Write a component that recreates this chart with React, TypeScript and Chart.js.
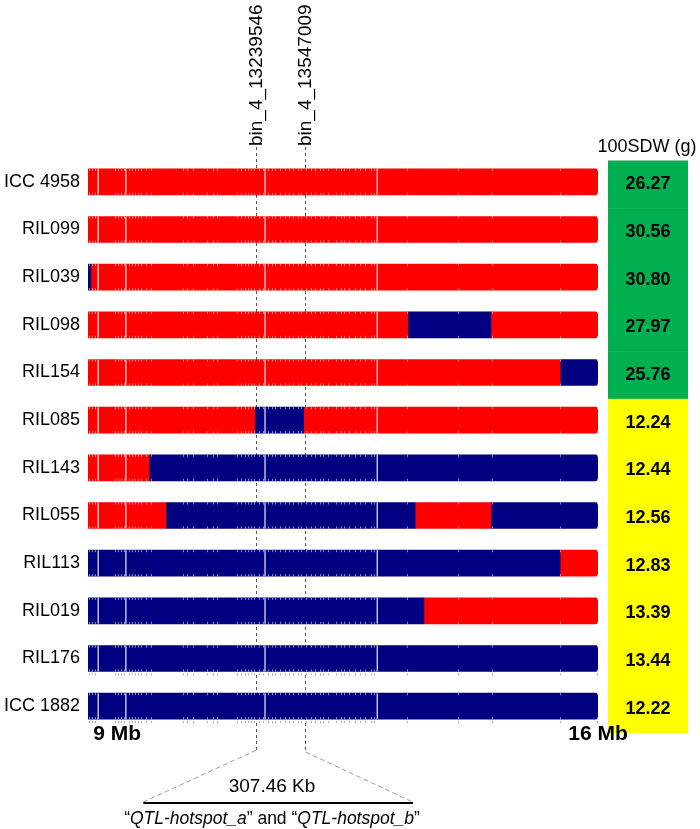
import React, { useEffect, useRef } from 'react';
import { Chart, registerables } from 'chart.js';

Chart.register(...registerables);

// ---- data ----
const lines = ['ICC 4958', 'RIL099', 'RIL039', 'RIL098', 'RIL154', 'RIL085', 'RIL143', 'RIL055', 'RIL113', 'RIL019', 'RIL176', 'ICC 1882'];
const sdw = [26.27, 30.56, 30.80, 27.97, 25.76, 12.24, 12.44, 12.56, 12.83, 13.39, 13.44, 12.22];
// A = ICC 4958 allele (red), B = ICC 1882 allele (blue)
const firstAllele = ['A', 'A', 'B', 'A', 'A', 'A', 'A', 'A', 'B', 'B', 'B', 'B'];
const breakpoints: number[][] = [
  [], [], [9.04], [13.39, 14.53], [15.48], [11.29, 11.96], [9.84], [10.07, 13.49, 14.53], [15.48], [13.61], [], [],
];
const mapStart = 9;
const mapEnd = 16;
const axisTickValues = [9.4, 16];
const axisTickLabels = ['9 Mb', '16 Mb'];
const binNames = ['bin_4_13239546', 'bin_4_13547009'];
const binPositions = [11.31, 11.98];
const zoomEnds = [9.76, 13.46];
const gapMarks = [9.14, 9.52, 11.43, 12.97];
const markerPositions = [
  9.01, 9.05, 9.09, 9.37, 9.41, 9.45, 9.49, 9.56, 9.6, 9.64, 9.69, 9.73, 9.8, 9.86,
  10.31, 10.36, 10.44, 10.63, 10.71, 10.77, 11.05, 11.1, 11.16, 11.2, 11.24, 11.28,
  11.35, 11.4, 11.47, 11.52, 11.57, 11.63, 11.7, 11.76, 11.81, 11.88, 11.93, 11.99,
  12.06, 12.12, 12.18, 12.23, 12.3, 12.41, 12.47, 12.52, 12.58, 12.66, 12.74, 12.8,
  12.88, 12.93, 13.38, 14.08, 14.55, 15.48, 15.99,
];
const sdwTitle = '100SDW (g)';
const intervalLabel = '307.46 Kb';
const hotspotA = 'QTL-hotspot_a';
const hotspotB = 'QTL-hotspot_b';

const alleleColor: Record<string, string> = { A: '#FF0000', B: '#000080' };
const FONT = '"Liberation Sans", Arial, Helvetica, sans-serif';

type Seg = { range: [number, number]; allele: string; last: boolean };

const segments: Seg[][] = lines.map((_, r) => {
  const edges = [mapStart, ...breakpoints[r], mapEnd];
  const other = firstAllele[r] === 'A' ? 'B' : 'A';
  return edges.slice(0, -1).map((s, k) => ({
    range: [s, edges[k + 1]] as [number, number],
    allele: k % 2 === 0 ? firstAllele[r] : other,
    last: k === edges.length - 2,
  }));
});

const maxSegs = Math.max(...segments.map((s) => s.length));

export default function App() {
  const ref = useRef<HTMLCanvasElement>(null);

  useEffect(() => {
    const canvas = ref.current;
    if (!canvas) return;

    const datasets = Array.from({ length: maxSegs }, (_, k) => ({
      data: segments.map((segs) => (segs[k] ? segs[k].range : null)),
      backgroundColor: segments.map((segs) => (segs[k] ? alleleColor[segs[k].allele] : 'rgba(0,0,0,0)')),
      borderRadius: (ctx: any) => {
        const s = segments[ctx.dataIndex] && segments[ctx.dataIndex][k];
        return s && s.last ? { topLeft: 0, bottomLeft: 0, topRight: 3, bottomRight: 3 } : 0;
      },
      borderSkipped: false,
      borderWidth: 0,
      grouped: false,
      barThickness: 26,
    }));

    const deco = {
      id: 'deco',
      beforeDatasetsDraw(chart: any) {
        const ctx = chart.ctx;
        const xs = chart.scales.x;
        const ys = chart.scales.y;
        const pitch = ys.getPixelForValue(1) - ys.getPixelForValue(0);
        ctx.save();

        // table
        const tl = 608;
        const tw = 80;
        lines.forEach((_, i) => {
          const c = ys.getPixelForValue(i) + 2.5;
          ctx.fillStyle = sdw[i] > 20 ? '#00B050' : '#FFFF00';
          ctx.fillRect(tl, c - pitch / 2, tw, pitch + 0.5);
          ctx.fillStyle = '#000';
          ctx.font = `bold 18px ${FONT}`;
          ctx.textAlign = 'center';
          ctx.textBaseline = 'middle';
          ctx.fillText(sdw[i].toFixed(2), tl + tw / 2, c);
        });
        ctx.font = `18px ${FONT}`;
        ctx.textAlign = 'center';
        ctx.textBaseline = 'middle';
        ctx.fillStyle = '#000';
        ctx.fillText(sdwTitle, 647, 147);

        // bin lines
        ctx.strokeStyle = '#555';
        ctx.lineWidth = 1;
        ctx.setLineDash([3, 3]);
        binPositions.forEach((v) => {
          const x = Math.round(xs.getPixelForValue(v)) + 0.5;
          ctx.beginPath();
          ctx.moveTo(x, 147);
          ctx.lineTo(x, 750);
          ctx.stroke();
        });
        ctx.restore();
      },
      afterDatasetsDraw(chart: any) {
        const ctx = chart.ctx;
        const xs = chart.scales.x;
        const meta = chart.getDatasetMeta(0);
        ctx.save();
        meta.data.forEach((el: any, i: number) => {
          const top = el.y - el.height / 2;
          const bot = el.y + el.height / 2;
          ctx.strokeStyle = 'rgba(255,255,255,0.85)';
          ctx.lineWidth = 1.3;
          gapMarks.forEach((v) => {
            const x = xs.getPixelForValue(v);
            ctx.beginPath();
            ctx.moveTo(x, top);
            ctx.lineTo(x, bot);
            ctx.stroke();
          });
          ctx.lineWidth = 1;
          ctx.strokeStyle = 'rgba(255,255,255,0.55)';
          markerPositions.forEach((v) => {
            const x = Math.round(xs.getPixelForValue(v)) + 0.5;
            ctx.beginPath();
            ctx.moveTo(x, top);
            ctx.lineTo(x, top + 2);
            ctx.moveTo(x, bot - 2);
            ctx.lineTo(x, bot);
            ctx.stroke();
          });
          if (i >= lines.length - 2) {
            ctx.strokeStyle = '#a8a8a8';
            markerPositions.forEach((v) => {
              const x = Math.round(xs.getPixelForValue(v)) + 0.5;
              ctx.beginPath();
              ctx.moveTo(x, bot + 2);
              ctx.lineTo(x, bot + 4);
              ctx.stroke();
            });
          }
        });
        ctx.restore();
      },
      afterDraw(chart: any) {
        const ctx = chart.ctx;
        const xs = chart.scales.x;
        ctx.save();

        // axis end labels (drawn here so they may overlap the plot edge like the original)
        ctx.fillStyle = '#000';
        ctx.font = `bold 21px ${FONT}`;
        ctx.textAlign = 'center';
        ctx.textBaseline = 'middle';
        axisTickValues.forEach((v, i) => {
          ctx.fillText(axisTickLabels[i], xs.getPixelForValue(v), 734);
        });

        // bin labels
        binPositions.forEach((v, i) => {
          const x = Math.round(xs.getPixelForValue(v)) + 0.5;
          ctx.save();
          ctx.translate(x, 146);
          ctx.rotate(-Math.PI / 2);
          ctx.font = `19px ${FONT}`;
          ctx.textAlign = 'left';
          ctx.textBaseline = 'middle';
          ctx.fillStyle = '#000';
          ctx.fillText(binNames[i], 0, 0);
          ctx.restore();
        });

        // zoom annotation
        const bx0 = Math.round(xs.getPixelForValue(binPositions[0])) + 0.5;
        const bx1 = Math.round(xs.getPixelForValue(binPositions[1])) + 0.5;
        const zx0 = xs.getPixelForValue(zoomEnds[0]);
        const zx1 = xs.getPixelForValue(zoomEnds[1]);
        ctx.strokeStyle = '#a0a0a0';
        ctx.lineWidth = 1;
        ctx.setLineDash([5, 3]);
        ctx.beginPath();
        ctx.moveTo(bx0, 750);
        ctx.lineTo(zx0, 802);
        ctx.moveTo(bx1, 752);
        ctx.lineTo(zx1, 802);
        ctx.stroke();
        ctx.setLineDash([]);
        ctx.strokeStyle = '#000';
        ctx.lineWidth = 2;
        ctx.beginPath();
        ctx.moveTo(zx0, 803);
        ctx.lineTo(zx1, 803);
        ctx.stroke();

        ctx.fillStyle = '#000';
        ctx.font = `19px ${FONT}`;
        ctx.textAlign = 'center';
        ctx.textBaseline = 'middle';
        ctx.fillText(intervalLabel, 272, 787);

        const parts: [string, boolean][] = [
          ['\u201C', false], [hotspotA, true], ['\u201D and \u201C', false], [hotspotB, true], ['\u201D', false],
        ];
        const size = 17.5;
        const fontFor = (it: boolean) => `${it ? 'italic ' : ''}${size}px ${FONT}`;
        let total = 0;
        parts.forEach(([t, it]) => {
          ctx.font = fontFor(it);
          total += ctx.measureText(t).width;
        });
        let x = 272 - total / 2;
        ctx.textAlign = 'left';
        parts.forEach(([t, it]) => {
          ctx.font = fontFor(it);
          ctx.fillText(t, x, 819);
          x += ctx.measureText(t).width;
        });
        ctx.restore();
      },
    };

    const chart = new Chart(canvas, {
      type: 'bar',
      data: { labels: lines, datasets: datasets as any },
      options: {
        indexAxis: 'y',
        responsive: false,
        animation: false,
        devicePixelRatio: 1,
        layout: { padding: { left: 0, right: 102, top: 158, bottom: 59 } },
        plugins: { legend: { display: false }, tooltip: { enabled: false } },
        scales: {
          x: {
            type: 'linear',
            min: mapStart,
            max: mapEnd,
            position: 'bottom',
            grid: { display: false, drawTicks: false },
            border: { display: false },
            afterBuildTicks: (s: any) => {
              s.ticks = axisTickValues.map((v) => ({ value: v }));
            },
            afterFit: (s: any) => {
              s.height = 40;
            },
            ticks: { display: false },
          },
          y: {
            type: 'category',
            grid: { display: false, drawTicks: false },
            border: { display: false },
            afterFit: (s: any) => {
              s.width = 88;
            },
            ticks: {
              padding: 8,
              color: '#000',
              font: { family: FONT, size: 18 },
            },
          },
        },
      },
      plugins: [deco],
    } as any);

    return () => chart.destroy();
  }, []);

  return (
    <div style={{ position: 'absolute', left: 0, top: 0, width: 700, height: 829, background: '#fff' }}>
      <canvas ref={ref} width={700} height={829} style={{ display: 'block', width: 700, height: 829 }} />
    </div>
  );
}
